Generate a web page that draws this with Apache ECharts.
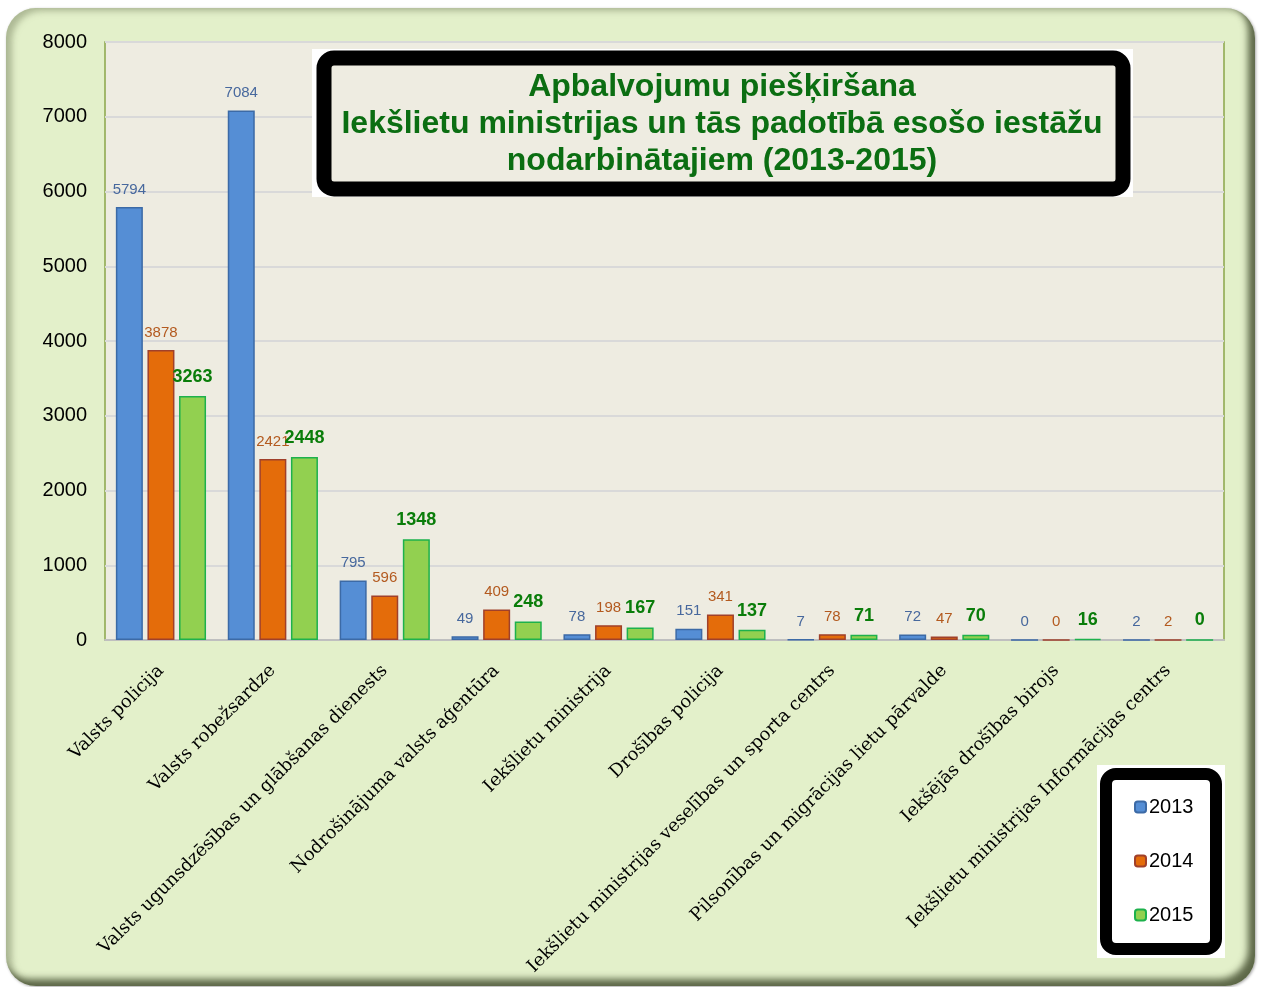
<!DOCTYPE html>
<html>
<head>
<meta charset="utf-8">
<script src="https://cdn.jsdelivr.net/npm/echarts@6/dist/echarts.min.js"></script>
<style>
  html, body { margin: 0; padding: 0; background: #fff; }
  #frame {
    position: absolute; left: 6px; top: 8px; width: 1249px; height: 978px;
    border-radius: 30px; background: #e3f0ca;
    box-shadow: inset -7px -7px 7px rgba(60, 70, 40, 0.8), inset 6px 3px 6px rgba(130, 140, 105, 0.55), 1px 1px 3px rgba(0, 0, 0, 0.35);
  }
  #main { position: absolute; left: 0; top: 0; width: 1261px; height: 987px; }
</style>
</head>
<body>
<div id="frame"></div>
<div id="main"></div>
<script>
// iestādes
const categories = [
  'Valsts policija',
  'Valsts robežsardze',
  'Valsts ugunsdzēsības un glābšanas dienests',
  'Nodrošinājuma valsts aģentūra',
  'Iekšlietu ministrija',
  'Drošības policija',
  'Iekšlietu ministrijas veselības un sporta centrs',
  'Pilsonības un migrācijas lietu pārvalde',
  'Iekšējās drošības birojs',
  'Iekšlietu ministrijas Informācijas centrs'
];
const years = ['2013', '2014', '2015'];
const values2013 = [5794, 7084, 795, 49, 78, 151, 7, 72, 0, 2];
const values2014 = [3878, 2421, 596, 409, 198, 341, 78, 47, 0, 2];
const values2015 = [3263, 2448, 1348, 248, 167, 137, 71, 70, 16, 0];
const yTicks = { min: 0, max: 8000, interval: 1000 };

const titleText = 'Apbalvojumu piešķiršana\nIekšlietu ministrijas un tās padotībā esošo iestāžu\nnodarbinātajiem (2013-2015)';

const chart = echarts.init(document.getElementById('main'));

function barSeries(name, data, fill, border, labelColor, bold, size) {
  return {
    name: name,
    type: 'bar',
    data: data,
    barWidth: 27,
    barGap: '17%',
    itemStyle: { color: fill, borderColor: border, borderWidth: 1.5 },
    label: {
      show: true,
      position: 'top',
      distance: 10,
      color: labelColor,
      fontFamily: 'Liberation Sans, Arial, sans-serif',
      fontWeight: bold ? 'bold' : 'normal',
      fontSize: size
    }
  };
}

const option = {
  backgroundColor: 'transparent',
  animation: false,
  grid: {
    left: 105, right: 37, top: 42, bottom: 347,
    show: true,
    backgroundColor: '#eeece1',
    borderColor: '#8aa54a',
    borderWidth: 1.5
  },
  xAxis: {
    type: 'category',
    data: categories,
    axisLine: { lineStyle: { color: '#bfbfbf', width: 2 } },
    axisTick: { show: false },
    axisLabel: {
      interval: 0,
      rotate: 45,
      margin: 28,
      color: '#000',
      fontFamily: 'DejaVu Serif, serif',
      fontSize: 18
    }
  },
  yAxis: {
    type: 'value',
    min: yTicks.min,
    max: yTicks.max,
    interval: yTicks.interval,
    axisLine: { show: false },
    axisTick: { show: false },
    axisLabel: {
      margin: 18,
      color: '#000',
      fontFamily: 'Liberation Sans, Arial, sans-serif',
      fontSize: 20,
      formatter: function (v) { return String(v); }
    },
    splitLine: { lineStyle: { color: '#d9d9d9', width: 2 } }
  },
  legend: {
    data: years,
    orient: 'vertical',
    left: 1129,
    top: 792,
    itemWidth: 11,
    itemHeight: 11,
    itemGap: 34,
    textStyle: {
      color: '#000',
      fontFamily: 'Liberation Sans, Arial, sans-serif',
      fontSize: 20,
      lineHeight: 20,
      padding: [0, 0, 0, -2]
    }
  },
  graphic: [
    { type: 'rect', z: 10, shape: { x: 312, y: 49, width: 821, height: 148 }, style: { fill: '#ffffff' } },
    { type: 'rect', z: 11, shape: { x: 324, y: 58, width: 799, height: 131, r: 10 },
      style: { fill: '#eeece1', stroke: '#000', lineWidth: 15 } },
    { type: 'text', z: 12, x: 722, y: 124,
      style: {
        text: titleText, align: 'center', verticalAlign: 'middle',
        fill: '#0b6e12', font: 'bold 32px "Liberation Sans", Arial, sans-serif', lineHeight: 37
      } },
    { type: 'rect', z: 1, shape: { x: 1097, y: 765, width: 128, height: 193 }, style: { fill: '#ffffff' } },
    { type: 'rect', z: 1, shape: { x: 1106, y: 774, width: 110, height: 175, r: 10 },
      style: { fill: '#ffffff', stroke: '#000', lineWidth: 12 } }
  ],
  series: [
    barSeries(years[0], values2013, '#558ed5', '#3c6aa6', '#47689d', false, 15),
    barSeries(years[1], values2014, '#e46c0a', '#a0402a', '#b35a1f', false, 15),
    barSeries(years[2], values2015, '#92d050', '#1db14c', '#0a7d0a', true, 18)
  ]
};

chart.setOption(option);
</script>
</body>
</html>
